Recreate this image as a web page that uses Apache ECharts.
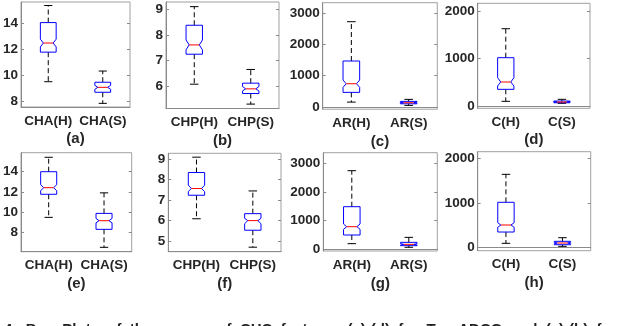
<!DOCTYPE html>
<html><head><meta charset="utf-8">
<script src="https://cdn.jsdelivr.net/npm/echarts@6/dist/echarts.min.js"></script>
<style>html,body{margin:0;padding:0;background:#fff;overflow:hidden}#c{width:624px;height:326px}</style>
</head><body><div id="c"></div>
<script>
// ---- data ----
const catCHA = ["CHA(H)", "CHA(S)"];
const catCHP = ["CHP(H)", "CHP(S)"];
const catAR  = ["AR(H)", "AR(S)"];
const catC   = ["C(H)", "C(S)"];
// each row: [lowerWhisker, q1, notchLow, median, notchHigh, q3, upperWhisker]
const statsA = [[9.48, 11.75, 12.15, 12.45, 12.75, 14.02, 15.33], [7.82, 8.67, 8.9, 9.05, 9.2, 9.44, 10.3]];
const statsB = [[6.09, 7.25, 7.42, 7.61, 7.8, 8.37, 9.09], [5.32, 5.73, 5.83, 5.91, 6.0, 6.13, 6.66]];
const statsC = [[151, 463, 624, 740, 858, 1469, 2730], [45, 96, 115, 129, 143, 174, 238]];
const statsD = [[99, 351, 421, 505, 596, 1017, 1627], [57, 69, 78, 84, 90, 105, 141]];
const statsE = [[9.51, 11.78, 12.13, 12.43, 12.72, 14.0, 15.42], [6.56, 8.33, 8.97, 9.18, 9.4, 9.9, 11.92]];
const statsF = [[6.09, 7.24, 7.42, 7.57, 7.73, 8.35, 9.1], [4.7, 5.53, 5.85, 6.0, 6.11, 6.34, 7.45]];
const statsG = [[186, 490, 689, 781, 875, 1481, 2741], [60, 117, 140, 163, 186, 233, 408]];
const statsH = [[98, 351, 456, 508, 559, 1016, 1642], [31, 67, 90, 105, 120, 143, 224]];
const ticksA = [8, 10, 12, 14];
const ticksB = [6, 7, 8, 9];
const ticksC = [0, 1000, 2000, 3000];
const ticksD = [0, 1000, 2000];
const ticksE = [8, 10, 12, 14];
const ticksF = [5, 6, 7, 8, 9];
const ticksG = [0, 1000, 2000, 3000];
const ticksH = [0, 1000, 2000];
const subLabels = ["(a)", "(b)", "(c)", "(d)", "(e)", "(f)", "(g)", "(h)"];
const captionText = "4:  Box  Plots  of  the  scores  of  CHC  features  (a)-(d)  for  TranADCG  and  (e)-(h)  for";

// ---- layout ----
const panels = [
  {cats: catCHA, stats: statsA, ticks: ticksA, min: 7.54, max: 15.6, left: 18, top: 2, width: 112, height: 105, gap: 24},
  {cats: catCHP, stats: statsB, ticks: ticksB, min: 5.15, max: 9.27, left: 166, top: 2, width: 113, height: 106.5, gap: 25},
  {cats: catAR,  stats: statsC, ticks: ticksC, min: -77, max: 3340, left: 322.7, top: 2.7, width: 114.6, height: 106.5, gap: 25},
  {cats: catC,   stats: statsD, ticks: ticksD, min: -48, max: 2162, left: 477.7, top: 3.3, width: 112.3, height: 105, gap: 24},
  {cats: catCHA, stats: statsE, ticks: ticksE, min: 6.13, max: 15.87, left: 19, top: 152.7, width: 112.7, height: 99, gap: 25},
  {cats: catCHP, stats: statsF, ticks: ticksF, min: 4.48, max: 9.29, left: 168.3, top: 153.3, width: 112.7, height: 98.4, gap: 25},
  {cats: catAR,  stats: statsG, ticks: ticksG, min: -70, max: 3371, left: 323.3, top: 152.7, width: 114, height: 98.3, gap: 25},
  {cats: catC,   stats: statsH, ticks: ticksH, min: -67, max: 2148, left: 477.7, top: 151.7, width: 113, height: 99, gap: 25}
];

const FONT = "'Liberation Sans', Arial, Helvetica, sans-serif";
const TXT = '#262626';
const AX = '#8a8a8a';

function renderBox(params, api) {
  const xi = api.value(0);
  const lo = api.value(1), q1 = api.value(2), nlo = api.value(3), med = api.value(4),
        nhi = api.value(5), q3 = api.value(6), hi = api.value(7);
  const cx = api.coord([xi, med])[0];
  const y = v => api.coord([xi, v])[1];
  const band = api.size([1, 0])[0];
  const hw = band * 0.145, nw = hw * 0.62, cw = band * 0.075;
  const dash = {stroke: '#000', lineWidth: 1, lineDash: [5, 3], fill: null};
  const solid = {stroke: '#000', lineWidth: 1, fill: null};
  const blue = {stroke: '#0000ff', lineWidth: 1, fill: null};
  const red = {stroke: '#ff0000', lineWidth: 1, fill: null};
  return {
    type: 'group',
    children: [
      {type: 'line', shape: {x1: cx, y1: y(q3), x2: cx, y2: y(hi)}, style: dash},
      {type: 'line', shape: {x1: cx, y1: y(q1), x2: cx, y2: y(lo)}, style: dash},
      {type: 'line', shape: {x1: cx - cw, y1: y(hi), x2: cx + cw, y2: y(hi)}, style: solid},
      {type: 'line', shape: {x1: cx - cw, y1: y(lo), x2: cx + cw, y2: y(lo)}, style: solid},
      {type: 'polygon', shape: {points: [
        [cx - hw, y(q3)], [cx + hw, y(q3)], [cx + hw, y(nhi)], [cx + nw, y(med)],
        [cx + hw, y(nlo)], [cx + hw, y(q1)], [cx - hw, y(q1)], [cx - hw, y(nlo)],
        [cx - nw, y(med)], [cx - hw, y(nhi)]
      ]}, style: blue},
      {type: 'line', shape: {x1: cx - nw, y1: y(med), x2: cx + nw, y2: y(med)}, style: red}
    ]
  };
}

const grid = [], xAxis = [], yAxis = [], series = [];
panels.forEach((p, i) => {
  grid.push({left: p.left, top: p.top, width: p.width, height: p.height, show: true,
             borderColor: '#a0a0a0', borderWidth: 1, backgroundColor: 'transparent'});
  const xi = xAxis.length, yi = yAxis.length;
  xAxis.push({
    type: 'category', gridIndex: i, data: p.cats, boundaryGap: true, position: 'bottom',
    axisLine: {lineStyle: {color: AX, width: 1}},
    axisTick: {inside: true, alignWithLabel: true, length: 3, lineStyle: {color: AX}},
    axisLabel: {margin: 7, fontSize: 13.5, fontWeight: 'bold', color: TXT, fontFamily: FONT, interval: 0},
    name: subLabels[i], nameLocation: 'middle', nameGap: p.gap,
    nameTextStyle: {fontSize: 15, fontWeight: 'bold', color: TXT, fontFamily: FONT}
  });
  xAxis.push({
    type: 'category', gridIndex: i, data: p.cats, boundaryGap: true, position: 'top',
    axisLine: {show: false},
    axisTick: {inside: true, alignWithLabel: true, length: 3, lineStyle: {color: AX}},
    axisLabel: {show: false}
  });
  yAxis.push({
    type: 'value', gridIndex: i, min: p.min, max: p.max, position: 'left',
    splitLine: {show: false},
    axisLine: {show: true, lineStyle: {color: AX, width: 1}},
    axisTick: {show: true, inside: true, length: 3, customValues: p.ticks, lineStyle: {color: AX}},
    axisLabel: {customValues: p.ticks, margin: 3, fontSize: 13.5, fontWeight: 'bold', color: TXT,
                fontFamily: FONT, formatter: v => String(v)}
  });
  yAxis.push({
    type: 'value', gridIndex: i, min: p.min, max: p.max, position: 'right',
    splitLine: {show: false},
    axisLine: {show: false},
    axisTick: {show: true, inside: true, length: 3, customValues: p.ticks, lineStyle: {color: AX}},
    axisLabel: {show: false}
  });
  series.push({
    type: 'custom', xAxisIndex: xi, yAxisIndex: yi, silent: true, clip: false,
    data: p.stats.map((s, k) => [k].concat(s)),
    encode: {x: 0, y: [1, 2, 3, 4, 5, 6, 7]},
    renderItem: renderBox
  });
});

const chart = echarts.init(document.getElementById('c'), null, {renderer: 'canvas'});
chart.setOption({
  animation: false,
  backgroundColor: '#fff',
  grid, xAxis, yAxis, series,
  graphic: [{
    type: 'text', left: 4, top: 322.5, silent: true,
    style: {text: captionText, font: "bold 15px 'Liberation Sans', Arial, sans-serif", fill: '#222'}
  }]
});
</script></body></html>
